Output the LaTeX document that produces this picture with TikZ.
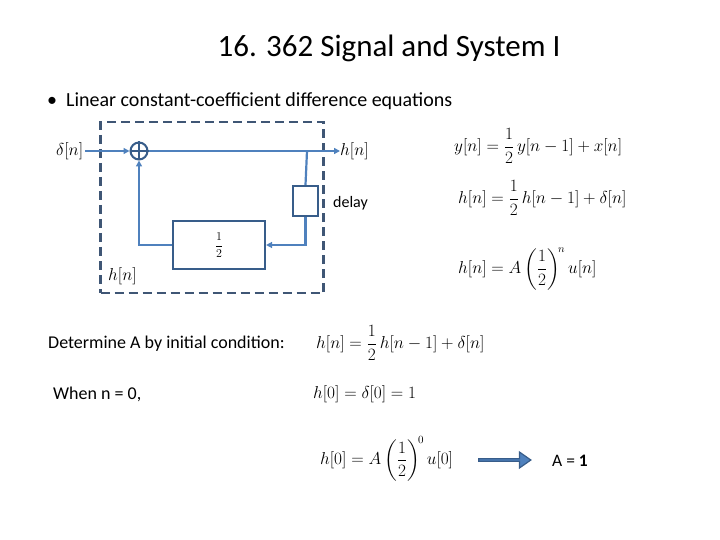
\documentclass[tikz,border=0pt]{standalone}
\usepackage{amsmath}
\usepackage{fontspec}
\setmainfont{Carlito}
\usetikzlibrary{arrows.meta,shapes.arrows}
\definecolor{sig}{HTML}{4F81BD}
\definecolor{boxc}{HTML}{385D8A}
\definecolor{dash}{HTML}{3F5675}
\tikzset{
  sigline/.style={draw=sig,line width=2.2pt},
  sigarrow/.style={sigline,-{Triangle[length=6pt,width=6pt]}},
  blk/.style={draw=boxc,line width=2.2pt,fill=white,inner sep=0pt},
  eq/.style={inner sep=0pt,anchor=west,font=\fontsize{16}{19}\selectfont},
  txt/.style={inner sep=0pt,anchor=west},
}
\begin{document}
\begin{tikzpicture}[x=1pt,y=-1pt]
\useasboundingbox (0,0) rectangle (720,540);
% title
\node[inner sep=0pt,font=\fontsize{31}{36}\selectfont] (title) at (389,48) {16. 362 Signal and System I};
\node[txt,font=\fontsize{20}{24}\selectfont] (bullet) at (47,101) {\textbullet\hspace{9pt}Linear constant-coefficient difference equations};
% dashed frame
\node[draw=dash,line width=2.6pt,dash pattern=on 9pt off 5pt,minimum width=223pt,minimum height=171pt,inner sep=0pt] (frame) at (212,207.5) {};
% blocks
\node[eq] (din) at (56,151) {$\delta[n]$};
\node[draw=boxc,line width=2pt,circle,minimum size=17pt,inner sep=0pt] (add) at (139,151) {};
\draw[boxc,line width=2pt] (add.north) -- (add.south) (add.west) -- (add.east);
\node[eq] (hout) at (340,151) {$h[n]$};
\coordinate (br) at (307,151);
\node[blk,minimum width=25pt,minimum height=30pt] (delay) at (305.5,201) {};
\node[txt,font=\fontsize{16}{19}\selectfont] (dl) at (333,203) {delay};
\node[blk,minimum width=92pt,minimum height=48pt,font=\fontsize{13}{15}\selectfont] (half) at (219,245) {$\dfrac{1}{2}$};
\node[eq] (hfb) at (108,276) {$h[n]$};
% connectors
\draw[sigarrow] (din.east) ++(2,0) -- (add.west);
\draw[sigarrow] (add.east) -- (hout.west);
\draw[sigline] (br) -- (delay.north);
\draw[sigarrow] (delay.south) |- (half.east);
\draw[sigarrow] (half.west) -| (add.south);
% equations right
\node[eq] (e1) at (454,146) {$y[n]=\dfrac{1}{2}\,y[n-1]+x[n]$};
\node[eq] (e2) at (458,198) {$h[n]=\dfrac{1}{2}\,h[n-1]+\delta[n]$};
\node[eq] (e3) at (458,269) {$h[n]=A\left(\dfrac{1}{2}\right)^{\!n}u[n]$};
% bottom
\node[txt,font=\fontsize{18}{22}\selectfont] (det) at (48,344) {Determine A by initial condition:};
\node[txt,font=\fontsize{18}{22}\selectfont] (when) at (53,394) {When n = 0,};
\node[eq] (e4) at (316,343) {$h[n]=\dfrac{1}{2}\,h[n-1]+\delta[n]$};
\node[eq] (e5) at (313,394) {$h[0]=\delta[0]=1$};
\node[eq] (e6) at (320,459) {$h[0]=A\left(\dfrac{1}{2}\right)^{\!0}u[0]$};
\node[single arrow,draw=boxc,line width=1.2pt,fill=sig,minimum height=52pt,minimum width=16pt,single arrow head extend=3.5pt,inner sep=0pt,single arrow tip angle=70] (arr) at (504,460) {};
\node[txt,font=\fontsize{17.5}{21}\selectfont] (A1) at (552,461) {A = \textbf{1}};
\end{tikzpicture}
\end{document}
